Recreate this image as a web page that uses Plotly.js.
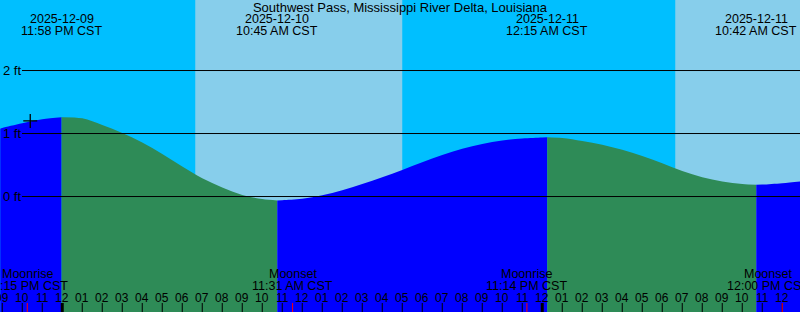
<!DOCTYPE html>
<html>
<head>
<meta charset="utf-8">
<script src="https://cdn.plot.ly/plotly-3.0.1.min.js"></script>
<style>
html,body{margin:0;padding:0;background:#fff;}
#chart{width:800px;height:312px;}
</style>
</head>
<body>
<div id="chart"></div>
<script>
// ---------- DATA ----------
const chartTitle = 'Southwest Pass, Mississippi River Delta, Louisiana';

const tideTimes = [
  '2025-12-09 20:54','2025-12-09 21:00','2025-12-09 22:00','2025-12-09 23:00','2025-12-09 23:58',
  '2025-12-10 01:00','2025-12-10 02:00','2025-12-10 03:00','2025-12-10 04:00','2025-12-10 05:00',
  '2025-12-10 06:00','2025-12-10 07:00','2025-12-10 08:00','2025-12-10 09:00','2025-12-10 10:00',
  '2025-12-10 10:45','2025-12-10 11:00','2025-12-10 12:00','2025-12-10 13:00','2025-12-10 14:00',
  '2025-12-10 15:00','2025-12-10 16:00','2025-12-10 17:00','2025-12-10 18:00','2025-12-10 19:00',
  '2025-12-10 20:00','2025-12-10 21:00','2025-12-10 22:00','2025-12-10 23:00','2025-12-11 00:00',
  '2025-12-11 00:15','2025-12-11 01:00','2025-12-11 02:00','2025-12-11 03:00','2025-12-11 04:00',
  '2025-12-11 05:00','2025-12-11 06:00','2025-12-11 07:00','2025-12-11 08:00','2025-12-11 09:00',
  '2025-12-11 10:00','2025-12-11 10:42','2025-12-11 11:00','2025-12-11 12:00','2025-12-11 12:54'
];
const tideHeights = [
  1.075, 1.087, 1.163, 1.227, 1.260,
  1.241, 1.135, 1.008, 0.857, 0.675,
  0.476, 0.289, 0.143, 0.025, -0.041,
  -0.063, -0.060, -0.037, 0.019, 0.098,
  0.198, 0.305, 0.421, 0.543, 0.659,
  0.757, 0.835, 0.889, 0.922, 0.938,
  0.941, 0.929, 0.881, 0.822, 0.741,
  0.643, 0.529, 0.405, 0.306, 0.238,
  0.198, 0.186, 0.189, 0.211, 0.238
];

const extremeTimes = ['2025-12-09 23:58','2025-12-10 10:45','2025-12-11 00:15','2025-12-11 10:42'];
const extremeDates = ['2025-12-09','2025-12-10','2025-12-11','2025-12-11'];
const extremeClock = ['11:58 PM CST','10:45 AM CST','12:15 AM CST','10:42 AM CST'];

const moonTimes = ['2025-12-09 22:15','2025-12-10 11:31','2025-12-10 23:14','2025-12-11 12:00'];
const moonKinds = ['Moonrise','Moonset','Moonrise','Moonset'];
const moonClock = ['10:15 PM CST','11:31 AM CST','11:14 PM CST','12:00 PM CST'];

const sunriseTimes = ['2025-12-10 06:39','2025-12-11 06:39'];
const sunsetTimes  = ['2025-12-10 17:00','2025-12-11 17:00'];

const nowTime = '2025-12-09 22:24';
const nowHeight = 1.20;

const gridLevels = [0, 1, 2];
const gridLabels = ['0 ft', '1 ft', '2 ft'];

const viewStart = '2025-12-09 20:53:15';
const viewEnd   = '2025-12-11 12:53:15';
const firstHour = '2025-12-09 21:00';
const lastHour  = '2025-12-11 12:00';

// ---------- STYLE ----------
const NIGHT = '#00BFFF', DAY = '#87CEEB', RISE = '#0000FF', FALL = '#2E8B57';
const Y_MIN = -1.833, Y_MAX = Y_MIN + 312 / 63;
const FONT = 'Liberation Sans, Arial, sans-serif';
const H = 312;
const py = p => (H - p) / H; // pixel-from-top to paper y
const moonShift = [0, 0, 0, -14];

// ---------- TRACES ----------
const traces = [];
const breaks = [0];
extremeTimes.forEach(t => { const i = tideTimes.indexOf(t); if (i > 0) breaks.push(i); });
breaks.push(tideTimes.length - 1);
for (let s = 0; s < breaks.length - 1; s++) {
  const a = breaks[s], b = breaks[s + 1];
  const xs = tideTimes.slice(a, b + 1), ys = tideHeights.slice(a, b + 1);
  const rising = ys[ys.length - 1] > ys[0];
  const col = rising ? RISE : FALL;
  traces.push({x: [xs[0], xs[xs.length - 1]], y: [Y_MIN - 1, Y_MIN - 1], mode: 'lines',
    line: {width: 0, color: col}, hoverinfo: 'skip', showlegend: false});
  traces.push({x: xs, y: ys, mode: 'lines', line: {width: 0, shape: 'spline', color: col},
    fill: 'tonexty', fillcolor: col, hoverinfo: 'skip', showlegend: false});
}
traces.push({x: [nowTime], y: [nowHeight], mode: 'markers',
  marker: {symbol: 'cross-thin', size: 10, line: {width: 1.3, color: '#000'}},
  hoverinfo: 'skip', showlegend: false});

// ---------- SHAPES ----------
const shapes = [];
sunriseTimes.forEach((t, i) => {
  shapes.push({type: 'rect', xref: 'x', yref: 'paper', x0: t, x1: sunsetTimes[i], y0: 0, y1: 1,
    fillcolor: DAY, line: {width: 0}, layer: 'below'});
});
gridLevels.forEach(v => {
  shapes.push({type: 'line', xref: 'paper', yref: 'y', x0: 22 / 800, x1: 1, y0: v, y1: v,
    line: {color: '#000', width: 1}, layer: 'above'});
});

const annotations = [];
gridLevels.forEach((v, i) => {
  annotations.push({xref: 'paper', yref: 'y', x: 1 / 800, y: v, xanchor: 'left', yanchor: 'middle',
    text: gridLabels[i], showarrow: false, font: {family: FONT, size: 13, color: '#000'}});
});

// hour ticks
const pad = n => (n < 10 ? '0' : '') + n;
const toUTC = s => { const [d, t] = s.split(' '); const [Y, M, D] = d.split('-').map(Number); const [h, m] = t.split(':').map(Number); return Date.UTC(Y, M - 1, D, h, m); };
const fmt = ms => { const d = new Date(ms); return d.getUTCFullYear() + '-' + pad(d.getUTCMonth() + 1) + '-' + pad(d.getUTCDate()) + ' ' + pad(d.getUTCHours()) + ':' + pad(d.getUTCMinutes()); };
for (let ms = toUTC(firstHour); ms <= toUTC(lastHour); ms += 3600000) {
  const hr = new Date(ms).getUTCHours();
  const t = fmt(ms);
  shapes.push({type: 'line', xref: 'x', yref: 'paper', x0: t, x1: t, y0: 0, y1: py(303),
    line: {color: '#000', width: hr === 0 ? 3 : 1}, layer: 'above'});
  annotations.push({xref: 'x', yref: 'paper', x: t, y: py(298), xanchor: 'center', yanchor: 'middle',
    text: pad(hr % 12 === 0 ? 12 : hr % 12), showarrow: false, font: {family: FONT, size: 12, color: '#000'}});
}
moonTimes.forEach((t, i) => {
  shapes.push({type: 'line', xref: 'x', yref: 'paper', x0: t, x1: t, y0: 0, y1: py(303),
    line: {color: '#FF0000', width: 1}, layer: 'above'});
  annotations.push({xref: 'x', yref: 'paper', x: t, y: py(274), xanchor: 'center', yanchor: 'middle', xshift: moonShift[i],
    text: moonKinds[i], showarrow: false, font: {family: FONT, size: 12.5, color: '#000'}});
  annotations.push({xref: 'x', yref: 'paper', x: t, y: py(286), xanchor: 'center', yanchor: 'middle', xshift: moonShift[i],
    text: moonClock[i], showarrow: false, font: {family: FONT, size: 12.5, color: '#000'}});
});
extremeTimes.forEach((t, i) => {
  annotations.push({xref: 'x', yref: 'paper', x: t, y: py(19), xanchor: 'center', yanchor: 'middle',
    text: extremeDates[i], showarrow: false, font: {family: FONT, size: 12.5, color: '#000'}});
  annotations.push({xref: 'x', yref: 'paper', x: t, y: py(31), xanchor: 'center', yanchor: 'middle',
    text: extremeClock[i], showarrow: false, font: {family: FONT, size: 12.5, color: '#000'}});
});

const layout = {
  width: 800, height: 312,
  margin: {l: 0, r: 0, t: 0, b: 0, pad: 0},
  paper_bgcolor: NIGHT, plot_bgcolor: NIGHT,
  title: {text: chartTitle, x: 0.5, xanchor: 'center', xref: 'paper', y: py(7.5), yref: 'container', yanchor: 'middle',
    font: {family: FONT, size: 13, color: '#000'}},
  xaxis: {type: 'date', range: [viewStart, viewEnd], visible: false, fixedrange: true},
  yaxis: {range: [Y_MIN, Y_MAX], visible: false, fixedrange: true},
  showlegend: false,
  shapes: shapes,
  annotations: annotations
};

Plotly.newPlot('chart', traces, layout, {staticPlot: true, displayModeBar: false});
</script>
</body>
</html>
